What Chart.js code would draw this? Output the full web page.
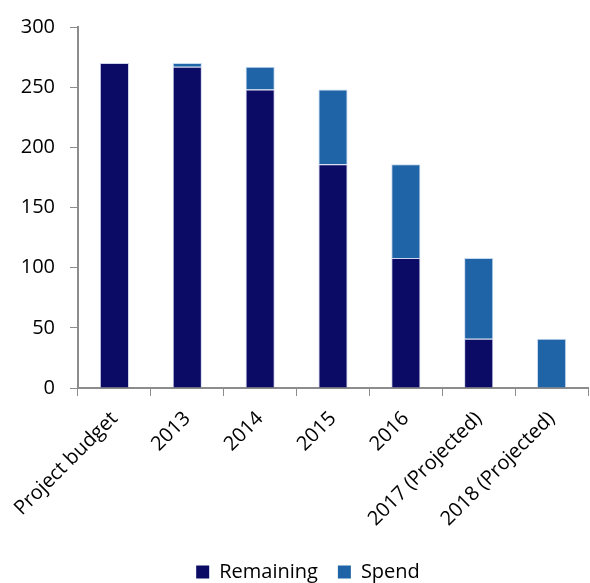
<!DOCTYPE html>
<html>
<head>
<meta charset="utf-8">
<script src="https://cdn.jsdelivr.net/npm/chart.js@4"></script>
<style>
    html, body { margin: 0; padding: 0; background: #ffffff; }
    #wrap { width: 590px; height: 583px; }
</style>
</head>
<body>
<div id="wrap"><canvas id="budgetChart"></canvas></div>
<script>
const categories = ['Project budget', '2013', '2014', '2015', '2016', '2017 (Projected)', '2018 (Projected)'];
const remaining = [270, 267, 248, 186, 108, 41, 0];
const spend = [0, 3, 19, 62, 78, 67, 41];
const yTicks = [0, 50, 100, 150, 200, 250, 300];

const axisGrey = '#8c8c8c';
const fontFamily = '"Open Sans", "Noto Sans", sans-serif';

// the original legend sits a little right of the canvas centre
const legendNudge = {
    id: 'legendNudge',
    afterLayout(chart) {
        if (chart.legend) {
            chart.legend.left += 14;
            chart.legend.right += 14;
        }
    }
};

const ctx = document.getElementById('budgetChart').getContext('2d');
new Chart(ctx, {
    type: 'bar',
    data: {
        labels: categories,
        datasets: [{
            label: 'Remaining',
            data: remaining,
            backgroundColor: '#0b0a64',
            borderColor: 'rgba(120, 130, 200, 0.35)',
            borderWidth: { left: 1, right: 1, top: 1, bottom: 0 },
            borderSkipped: false,
            barPercentage: 0.8,
            categoryPercentage: 0.5
        }, {
            label: 'Spend',
            data: spend,
            backgroundColor: '#1f64a6',
            borderColor: 'rgba(130, 170, 220, 0.45)',
            borderWidth: { left: 1, right: 1, top: 1, bottom: 0 },
            borderSkipped: false,
            barPercentage: 0.8,
            categoryPercentage: 0.5
        }]
    },
    plugins: [legendNudge],
    options: {
        responsive: true,
        maintainAspectRatio: false,
        animation: false,
        layout: {
            autoPadding: false,
            padding: { top: 21, right: 2, left: 0, bottom: -9 }
        },
        plugins: {
            tooltip: { enabled: false },
            legend: {
                position: 'bottom',
                labels: {
                    color: '#000000',
                    font: { family: fontFamily, size: 20 },
                    boxWidth: 13,
                    boxHeight: 13,
                    padding: 20,
                    generateLabels: function(chart) {
                        return chart.data.datasets.map((ds, i) => ({
                            text: ds.label,
                            fillStyle: ds.backgroundColor,
                            strokeStyle: ds.backgroundColor,
                            lineWidth: 0,
                            datasetIndex: i,
                            fontColor: '#000000'
                        }));
                    }
                }
            }
        },
        scales: {
            x: {
                stacked: true,
                afterFit: function(axis) {
                    axis.height = 154;
                },
                grid: {
                    display: true,
                    drawOnChartArea: false,
                    drawTicks: true,
                    tickLength: 8,
                    color: axisGrey,
                    offset: true
                },
                border: { color: axisGrey, width: 2 },
                ticks: {
                    color: '#000000',
                    font: { family: fontFamily, size: 20 },
                    maxRotation: 45,
                    minRotation: 45,
                    autoSkip: false,
                    padding: 11
                }
            },
            y: {
                stacked: true,
                min: 0,
                max: 300,
                afterBuildTicks: function(axis) {
                    axis.ticks = yTicks.map(v => ({ value: v }));
                },
                afterFit: function(axis) {
                    axis.width = 78;
                },
                grid: {
                    display: true,
                    drawOnChartArea: false,
                    drawTicks: true,
                    tickLength: 8,
                    color: axisGrey
                },
                border: { color: axisGrey, width: 2 },
                ticks: {
                    color: '#000000',
                    font: { family: fontFamily, size: 20 },
                    padding: 15
                }
            }
        }
    }
});
</script>
</body>
</html>
